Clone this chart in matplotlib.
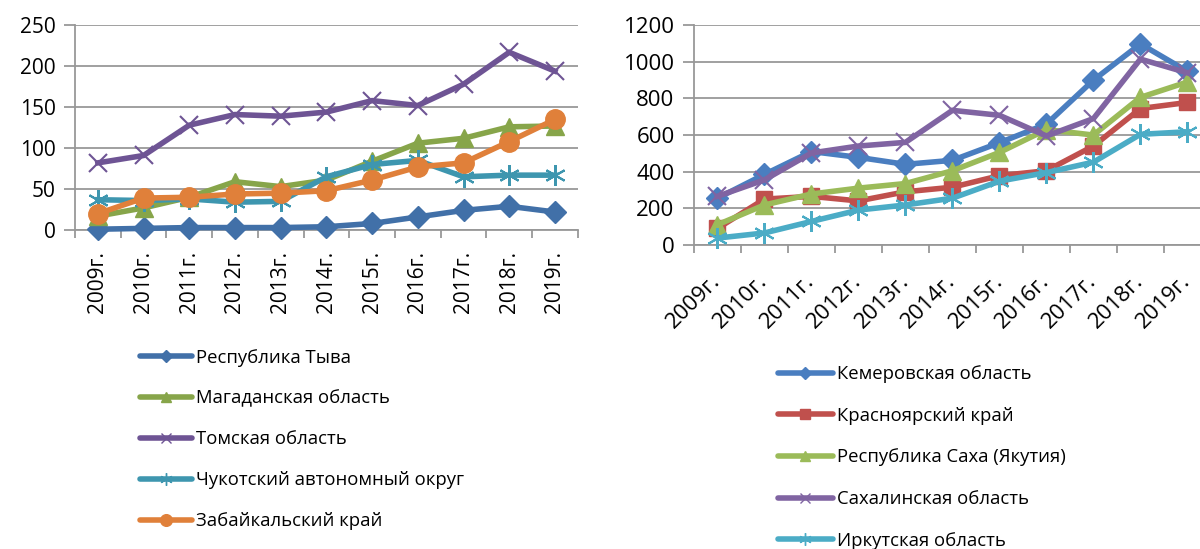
import matplotlib
matplotlib.use("Agg")
import matplotlib.pyplot as plt
from matplotlib.lines import Line2D

plt.rcParams['font.family'] = ['Open Sans', 'DejaVu Sans']

years = ['2009г.', '2010г.', '2011г.', '2012г.', '2013г.', '2014г.',
         '2015г.', '2016г.', '2017г.', '2018г.', '2019г.']

# left chart
tyva = [1, 2, 3, 3, 3, 4, 8, 16, 24, 29, 22]
magadan = [17, 27, 40, 59, 53, 61, 84, 106, 112, 126, 127]
tomsk = [82, 91, 128, 141, 139, 144, 158, 152, 178, 217, 194]
chukotka = [37, 36, 38, 34, 35, 65, 80, 85, 65, 67, 67]
zabaikal = [20, 39, 40, 44, 45, 48, 61, 77, 82, 108, 135]

left_names = ['Республика Тыва', 'Магаданская область', 'Томская область',
              'Чукотский автономный округ', 'Забайкальский край']
left_series = [tyva, magadan, tomsk, chukotka, zabaikal]
left_colors = ['#4170A8', '#87A54A', '#6E5494', '#3E96AF', '#E0803A']

# right chart
kemerovo = [255, 385, 510, 478, 440, 462, 558, 660, 900, 1098, 948]
krasnoyarsk = [90, 250, 265, 240, 290, 315, 378, 405, 540, 745, 778]
yakutia = [110, 218, 278, 310, 335, 405, 505, 630, 600, 806, 890]
sakhalin = [265, 355, 502, 540, 560, 735, 708, 595, 690, 1015, 940]
irkutsk = [37, 65, 128, 190, 218, 255, 348, 395, 452, 604, 618]

right_names = ['Кемеровская область', 'Красноярский край', 'Республика Саха (Якутия)',
               'Сахалинская область', 'Иркутская область']
right_series = [kemerovo, krasnoyarsk, yakutia, sakhalin, irkutsk]
right_colors = ['#4A7EC0', '#C0504D', '#9BBB59', '#8064A2', '#4BACC6']

left_markers = [('D', 11), ('^', 13), ('x', 13), ((6, 2, 0), 15), ('o', 14)]
right_markers = [('D', 11), ('s', 12), ('^', 13), ('x', 13), ((6, 2, 0), 15)]

grid_c = '#989898'

fig = plt.figure(figsize=(12, 5.49), dpi=100)
ax1 = fig.add_axes([0.0625, 0.581, 0.419, 0.373])
ax2 = fig.add_axes([0.5783, 0.554, 0.4308, 0.400])


def style_axes(ax, ymax, step, fs):
    x = list(range(len(years)))
    ax.set_xlim(-0.5, len(years) - 0.5)
    ax.set_ylim(0, ymax)
    ax.set_yticks(range(0, ymax + 1, step))
    ax.set_xticks(x)
    ax.set_xticks([i - 0.5 for i in range(len(years) + 1)], minor=True)
    ax.tick_params(axis='x', which='major', length=0, labelsize=fs)
    ax.tick_params(axis='x', which='minor', length=6, color=grid_c, width=1.3)
    ax.tick_params(axis='y', length=8, color=grid_c, width=1.3, labelsize=fs, pad=6)
    ax.grid(axis='y', color=grid_c, linewidth=1.3)
    ax.set_axisbelow(True)
    for s in ['top', 'right']:
        ax.spines[s].set_visible(False)
    for s in ['left', 'bottom']:
        ax.spines[s].set_color(grid_c)
        ax.spines[s].set_linewidth(1.3)


def draw(ax, series, colors, markers, names):
    x = list(range(len(years)))
    handles = []
    for vals, c, (m, ms), name in zip(series, colors, markers, names):
        ax.plot(x, vals, color=c, linewidth=4, marker=m, markersize=ms,
                markeredgewidth=1.5 if m in ('x', (6, 2, 0)) else 1,
                markeredgecolor=c, solid_joinstyle='miter', clip_on=False, zorder=3)
        handles.append(Line2D([0], [0], color=c, linewidth=4, marker=m,
                              markersize=ms * 0.6, markeredgecolor=c,
                              solid_capstyle='round', label=name))
    return handles


style_axes(ax1, 250, 50, 15)
h1 = draw(ax1, left_series, left_colors, left_markers, left_names)
ax1.set_xticklabels(years, rotation=90, va='top', ha='center')
ax1.tick_params(axis='x', which='major', pad=15)

style_axes(ax2, 1200, 200, 16)
h2 = draw(ax2, right_series, right_colors, right_markers, right_names)
ax2.set_xticklabels(years, rotation=45, ha='right', va='center', rotation_mode='anchor')
ax2.tick_params(axis='x', which='major', pad=24)

fig.legend(handles=h1, loc='upper left', bbox_to_anchor=(0.117, 0.365),
           frameon=False, fontsize=13.3, handlelength=2.8, handletextpad=0.22,
           labelspacing=1.24, borderpad=0, borderaxespad=0)
fig.legend(handles=h2, loc='upper left', bbox_to_anchor=(0.648, 0.335),
           frameon=False, fontsize=13.3, handlelength=3.0, handletextpad=0.22,
           labelspacing=1.28, borderpad=0, borderaxespad=0)

fig.savefig('out.png', dpi=100)
